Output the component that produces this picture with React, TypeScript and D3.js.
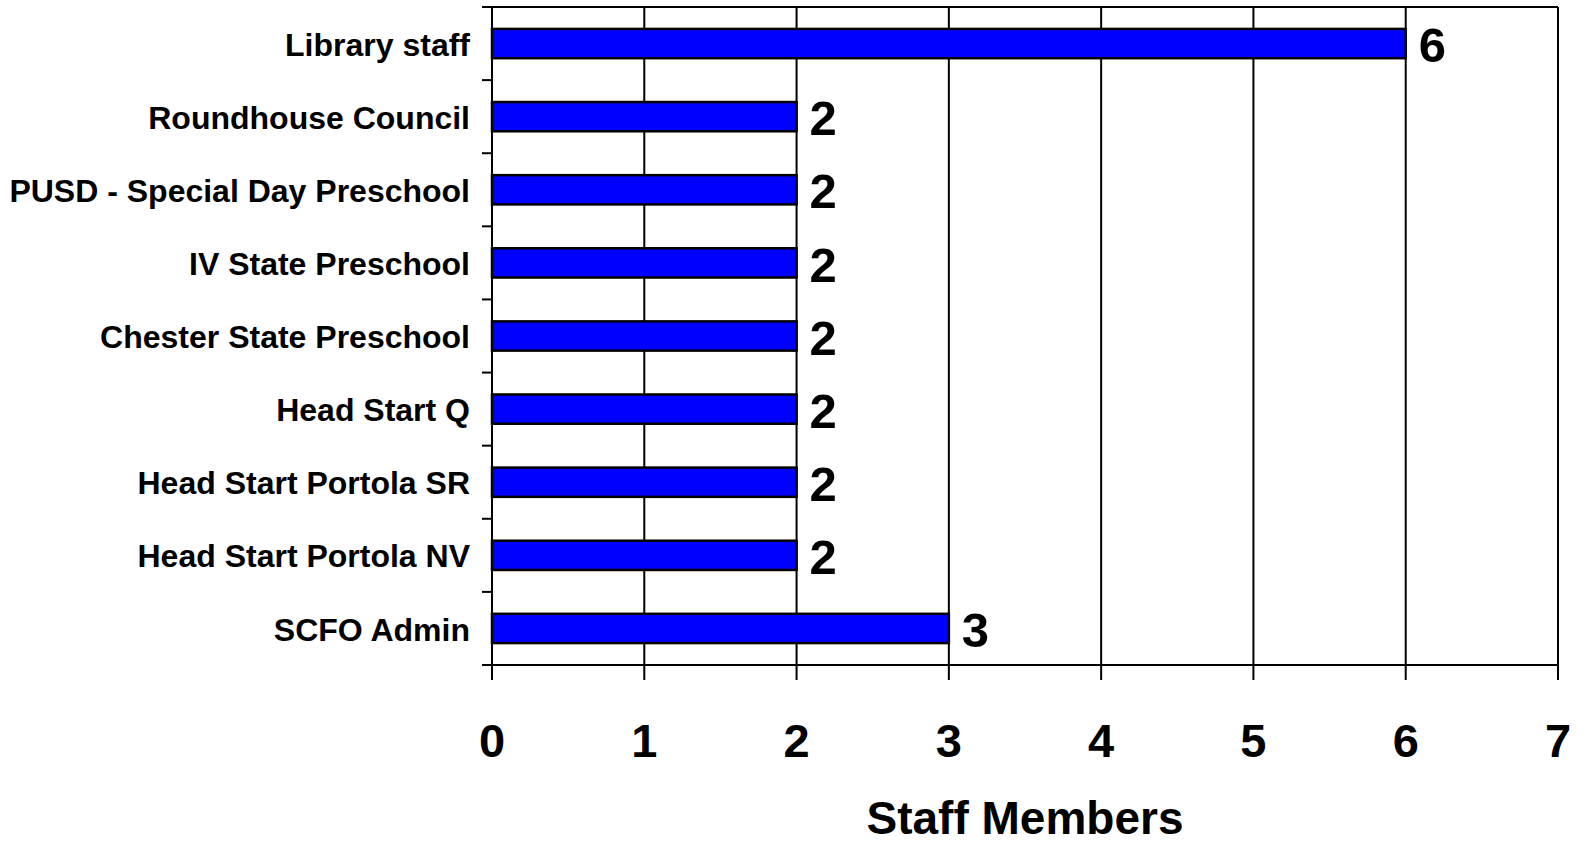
import React from 'react';
import * as d3 from 'd3';

const categories = [
  'Library staff',
  'Roundhouse Council',
  'PUSD - Special Day Preschool',
  'IV State Preschool',
  'Chester State Preschool',
  'Head Start Q',
  'Head Start Portola SR',
  'Head Start Portola NV',
  'SCFO Admin',
];
const staffCounts = [6, 2, 2, 2, 2, 2, 2, 2, 3];
const xTicks = [0, 1, 2, 3, 4, 5, 6, 7];

const WIDTH = 1585;
const HEIGHT = 847;
const FONT = 'Arial, "Liberation Sans", sans-serif';

export default function App() {
  const left = 492;
  const right = 1558;
  const top = 7;
  const bottom = 665;

  const x = d3.scaleLinear().domain([0, 7]).range([left, right]);
  const y = d3.scaleBand<string>().domain(categories).range([top, bottom]).paddingInner(0.6).paddingOuter(0.3);
  const band = d3.scaleBand<string>().domain(categories).range([top, bottom]);

  return (
    <svg width={WIDTH} height={HEIGHT} style={{ position: 'absolute', left: 0, top: 0, background: '#fff' }}>
      {/* vertical gridlines */}
      {xTicks.map(t => (
        <line key={'g' + t} x1={x(t)} x2={x(t)} y1={top} y2={bottom} stroke="#000" strokeWidth={2} />
      ))}
      {/* top border */}
      <line x1={left - 10} x2={right} y1={top} y2={top} stroke="#000" strokeWidth={2} />
      {/* bottom axis */}
      <line x1={left - 10} x2={right} y1={bottom} y2={bottom} stroke="#000" strokeWidth={2} />
      {xTicks.map(t => (
        <line key={'t' + t} x1={x(t)} x2={x(t)} y1={bottom} y2={bottom + 15} stroke="#000" strokeWidth={2} />
      ))}
      {/* left category ticks */}
      {categories.map(c => (
        <line key={'lt' + c} x1={left - 10} x2={left} y1={(band(c) as number) + band.bandwidth()} y2={(band(c) as number) + band.bandwidth()} stroke="#000" strokeWidth={2} />
      ))}
      {/* bars */}
      {categories.map((c, i) => (
        <rect
          key={'b' + c}
          x={x(0)}
          y={y(c)}
          width={x(staffCounts[i]) - x(0)}
          height={y.bandwidth()}
          fill="#0000ff"
          stroke="#000"
          strokeWidth={2.5}
        />
      ))}
      {/* value labels */}
      {categories.map((c, i) => (
        <text
          key={'v' + c}
          x={x(staffCounts[i]) + 13}
          y={(y(c) as number) + y.bandwidth() / 2}
          dy="0.38em"
          fontFamily={FONT}
          fontWeight="bold"
          fontSize={49}
          fill="#000"
        >
          {staffCounts[i]}
        </text>
      ))}
      {/* category labels */}
      {categories.map(c => (
        <text
          key={'c' + c}
          x={470}
          y={(band(c) as number) + band.bandwidth() / 2}
          dy="0.38em"
          textAnchor="end"
          fontFamily={FONT}
          fontWeight="bold"
          fontSize={32}
          fill="#000"
        >
          {c}
        </text>
      ))}
      {/* x tick labels */}
      {xTicks.map(t => (
        <text
          key={'xl' + t}
          x={x(t)}
          y={757}
          textAnchor="middle"
          fontFamily={FONT}
          fontWeight="bold"
          fontSize={47}
          fill="#000"
        >
          {t}
        </text>
      ))}
      <text
        x={(left + right) / 2}
        y={834}
        textAnchor="middle"
        fontFamily={FONT}
        fontWeight="bold"
        fontSize={46}
        fill="#000"
      >
        Staff Members
      </text>
    </svg>
  );
}
